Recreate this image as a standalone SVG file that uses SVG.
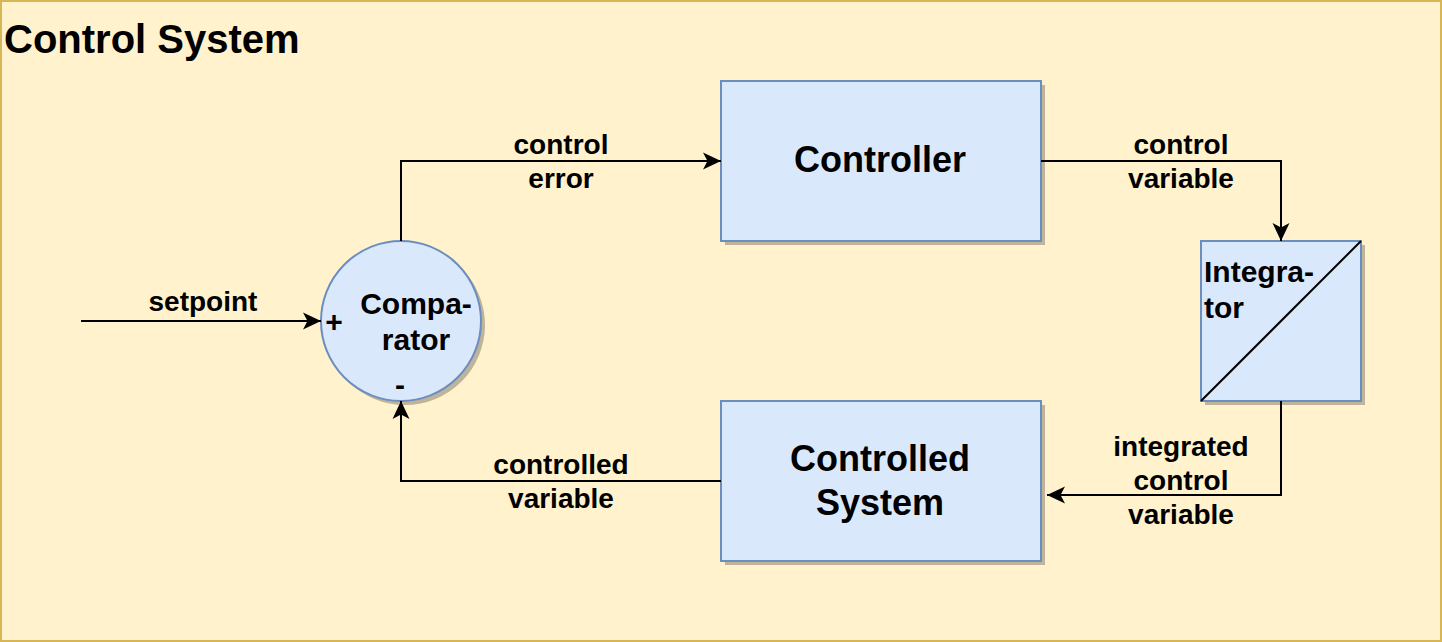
<svg xmlns="http://www.w3.org/2000/svg" width="1442" height="642" viewBox="0 0 1442 642">
<defs>
<style>
.t{font-family:"Liberation Sans",Arial,sans-serif;font-weight:bold;fill:#000}
.lbl{font-size:28px;text-anchor:middle}
.node{fill:#dae8fc;stroke:#6c8ebf;stroke-width:2}
.shadow{fill:#bfb49a}
.edge{fill:none;stroke:#000;stroke-width:2}
</style>
<marker id="arr" markerUnits="userSpaceOnUse" markerWidth="20" markerHeight="20" viewBox="0 0 20 20" refX="18" refY="10" orient="auto">
<path d="M0,1.5 L18,10 L0,18.5 L4.5,10 Z" fill="#000"/>
</marker>
</defs>
<g id="frame">
<rect x="1" y="1" width="1440" height="640" fill="#fff2cc" stroke="#d6b656" stroke-width="2"/>
<text class="t" x="4" y="53" font-size="40">Control System</text>
</g>
<g id="controller">
<rect class="shadow" x="725" y="85" width="320" height="160"/>
<rect class="node" x="721" y="81" width="320" height="160"/>
<text class="t" x="880" y="172" font-size="36" text-anchor="middle">Controller</text>
</g>
<g id="controlled-system">
<rect class="shadow" x="725" y="405" width="320" height="160"/>
<rect class="node" x="721" y="401" width="320" height="160"/>
<text class="t" x="880" y="471" font-size="36" text-anchor="middle">Controlled</text>
<text class="t" x="880" y="515" font-size="36" text-anchor="middle">System</text>
</g>
<g id="integrator">
<rect class="shadow" x="1205" y="245" width="160" height="160"/>
<rect class="node" x="1201" y="241" width="160" height="160"/>
<line x1="1201" y1="401" x2="1361" y2="241" stroke="#000" stroke-width="2"/>
<text class="t" x="1204" y="282" font-size="30">Integra-</text>
<text class="t" x="1204" y="318" font-size="30">tor</text>
</g>
<g id="comparator">
<circle class="shadow" cx="405" cy="325" r="80"/>
<circle class="node" cx="401" cy="321" r="80"/>
<text class="t" x="416" y="314" font-size="30" text-anchor="middle">Compa-</text>
<text class="t" x="416" y="350" font-size="30" text-anchor="middle">rator</text>
<text class="t" x="334" y="332" font-size="30" text-anchor="middle">+</text>
<text class="t" x="400" y="395" font-size="30" text-anchor="middle">-</text>
</g>
<g id="connectors">
<path class="edge" d="M81,321 L321,321" marker-end="url(#arr)"/>
<path class="edge" d="M401,241 L401,161 L721,161" marker-end="url(#arr)"/>
<path class="edge" d="M1041,161 L1281,161 L1281,241" marker-end="url(#arr)"/>
<path class="edge" d="M1281,401 L1281,495 L1047,495" marker-end="url(#arr)"/>
<path class="edge" d="M721,481 L401,481 L401,401" marker-end="url(#arr)"/>
<text class="t lbl" x="203" y="311">setpoint</text>
<text class="t lbl" x="561" y="154">control</text>
<text class="t lbl" x="561" y="188">error</text>
<text class="t lbl" x="1181" y="154">control</text>
<text class="t lbl" x="1181" y="188">variable</text>
<text class="t lbl" x="1181" y="456">integrated</text>
<text class="t lbl" x="1181" y="490">control</text>
<text class="t lbl" x="1181" y="524">variable</text>
<text class="t lbl" x="561" y="474">controlled</text>
<text class="t lbl" x="561" y="508">variable</text>
</g>
</svg>
